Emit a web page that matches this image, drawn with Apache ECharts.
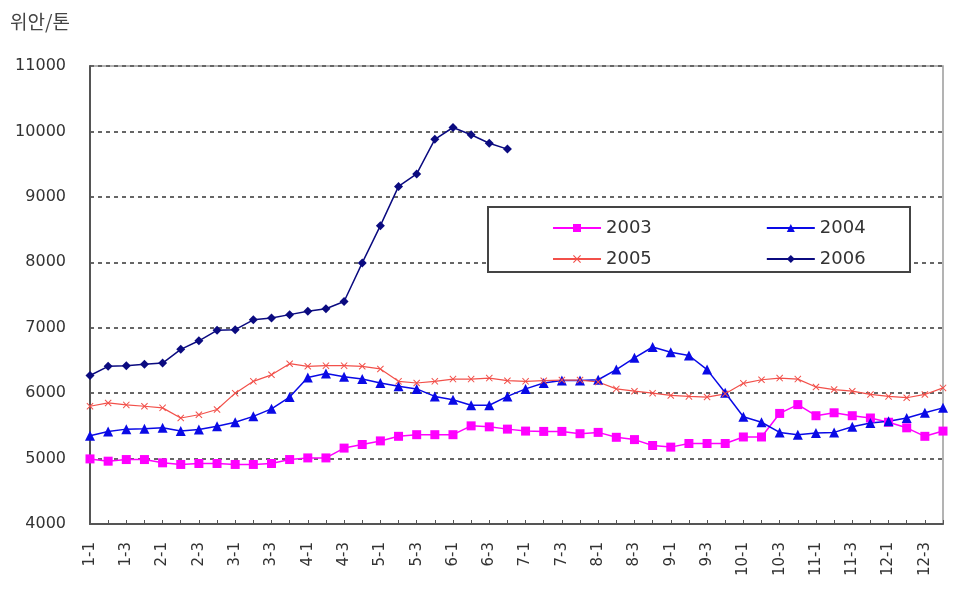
<!DOCTYPE html>
<html>
<head>
<meta charset="utf-8">
<script src="https://cdn.jsdelivr.net/npm/echarts@6/dist/echarts.min.js"></script>
<style>
  html, body { margin: 0; padding: 0; background: #ffffff; }
  #chart { width: 970px; height: 596px; }
</style>
</head>
<body>
<div id="chart"></div>
<script>
// Weekly price, month-week categories
const weeks = [
  '1-1','1-2','1-3','1-4','2-1','2-2','2-3','2-4','3-1','3-2','3-3','3-4',
  '4-1','4-2','4-3','4-4','5-1','5-2','5-3','5-4','6-1','6-2','6-3','6-4',
  '7-1','7-2','7-3','7-4','8-1','8-2','8-3','8-4','9-1','9-2','9-3','9-4',
  '10-1','10-2','10-3','10-4','11-1','11-2','11-3','11-4','12-1','12-2','12-3','12-4'
];

const y2003 = [
  4995, 4960, 4985, 4985, 4935, 4910, 4925, 4925, 4910, 4910, 4925, 4985,
  5010, 5010, 5160, 5215, 5270, 5340, 5365, 5365, 5365, 5500, 5485, 5450,
  5420, 5415, 5415, 5380, 5400, 5325, 5290, 5200, 5175, 5230, 5230, 5230,
  5330, 5330, 5690, 5825, 5655, 5700, 5655, 5620, 5555, 5470, 5340, 5420
];

const y2004 = [
  5350, 5415, 5450, 5455, 5470, 5420, 5445, 5495, 5555, 5645, 5760, 5940,
  6240, 6300, 6250, 6215, 6155, 6105, 6065, 5950, 5900, 5815, 5815, 5950,
  6065, 6155, 6195, 6195, 6205, 6360, 6540, 6705, 6625, 6575, 6360, 6005,
  5640, 5555, 5400, 5365, 5390, 5400, 5485, 5545, 5570, 5620, 5700, 5775
];

const y2005 = [
  5800, 5850, 5820, 5800, 5775, 5620, 5670, 5750, 6000, 6180, 6280, 6450,
  6410, 6420, 6420, 6410, 6370, 6180, 6155, 6180, 6215, 6215, 6230, 6190,
  6180, 6190, 6200, 6200, 6170, 6065, 6030, 6000, 5965, 5950, 5940, 5990,
  6150, 6205, 6230, 6215, 6095, 6055, 6030, 5980, 5950, 5930, 5980, 6080
];

const y2006 = [
  6270, 6410, 6420, 6440, 6460, 6670, 6800, 6960, 6970, 7120, 7150, 7200,
  7250, 7290, 7400, 7990, 8560, 9160, 9350, 9880, 10060, 9950, 9820, 9730,
  null, null, null, null, null, null, null, null, null, null, null, null,
  null, null, null, null, null, null, null, null, null, null, null, null
];

const yTicks = { min: 4000, max: 11000, step: 1000 };
const unitLabel = '위안/톤';

const crossSymbol = 'path://M0,1L1,0L5,4L9,0L10,1L6,5L10,9L9,10L5,6L1,10L0,9L4,5Z';

const chart = echarts.init(document.getElementById('chart'), null, { renderer: 'canvas' });

function lineSeries(name, data, color, symbol, size, width) {
  return {
    name: name,
    type: 'line',
    data: data,
    symbol: symbol,
    symbolSize: size,
    showAllSymbol: true,
    connectNulls: false,
    lineStyle: { color: color, width: width },
    itemStyle: { color: color },
    emphasis: { disabled: true },
    animation: false
  };
}

const legendText = { fontFamily: 'DejaVu Sans', fontSize: 18, color: '#333' };

chart.setOption({
  backgroundColor: '#ffffff',
  animation: false,
  grid: {
    left: 90, right: 27, top: 66, bottom: 72,
    show: true, borderColor: '#9a9a9a', borderWidth: 1.5, backgroundColor: 'transparent'
  },
  graphic: [
    {
      type: 'text', left: 10, top: 12, z: 10,
      style: { text: unitLabel, font: '19px "Noto Sans CJK KR"', fill: '#444' }
    },
    {
      type: 'rect', z: 3,
      shape: { x: 488, y: 207, width: 422, height: 65 },
      style: { fill: '#ffffff', stroke: '#444', lineWidth: 2 }
    }
  ],
  legend: [
    {
      data: ['2003', '2004'], left: 547, top: 214, z: 6,
      itemWidth: 48, itemHeight: 10, itemGap: 114, textStyle: legendText
    },
    {
      data: ['2005', '2006'], left: 547, top: 245, z: 6,
      itemWidth: 48, itemHeight: 10, itemGap: 114, textStyle: legendText
    }
  ],
  xAxis: {
    type: 'category',
    data: weeks,
    boundaryGap: false,
    axisLine: { lineStyle: { color: '#555', width: 2 } },
    axisTick: { show: true, inside: true, length: 4, interval: 0, lineStyle: { color: '#555' } },
    axisLabel: {
      interval: 1, rotate: 90, margin: 18,
      fontFamily: 'DejaVu Sans', fontSize: 15, color: '#333'
    },
    splitLine: { show: false }
  },
  yAxis: {
    type: 'value',
    min: yTicks.min, max: yTicks.max, interval: yTicks.step,
    axisLine: { show: true, lineStyle: { color: '#555', width: 2 } },
    axisTick: { show: false },
    axisLabel: {
      margin: 24, fontFamily: 'DejaVu Sans', fontSize: 16, color: '#333',
      formatter: function (v) { return String(v); }
    },
    splitLine: { show: true, lineStyle: { color: '#666', width: 2, type: [4, 4] } }
  },
  series: [
    lineSeries('2003', y2003, '#ff00ff', 'rect', 9, 1.5),
    lineSeries('2004', y2004, '#0a0ae6', 'triangle', 10, 1.5),
    lineSeries('2005', y2005, '#f2504a', crossSymbol, 7, 1.2),
    lineSeries('2006', y2006, '#0b0b80', 'diamond', 9, 1.5)
  ]
});
</script>
</body>
</html>
